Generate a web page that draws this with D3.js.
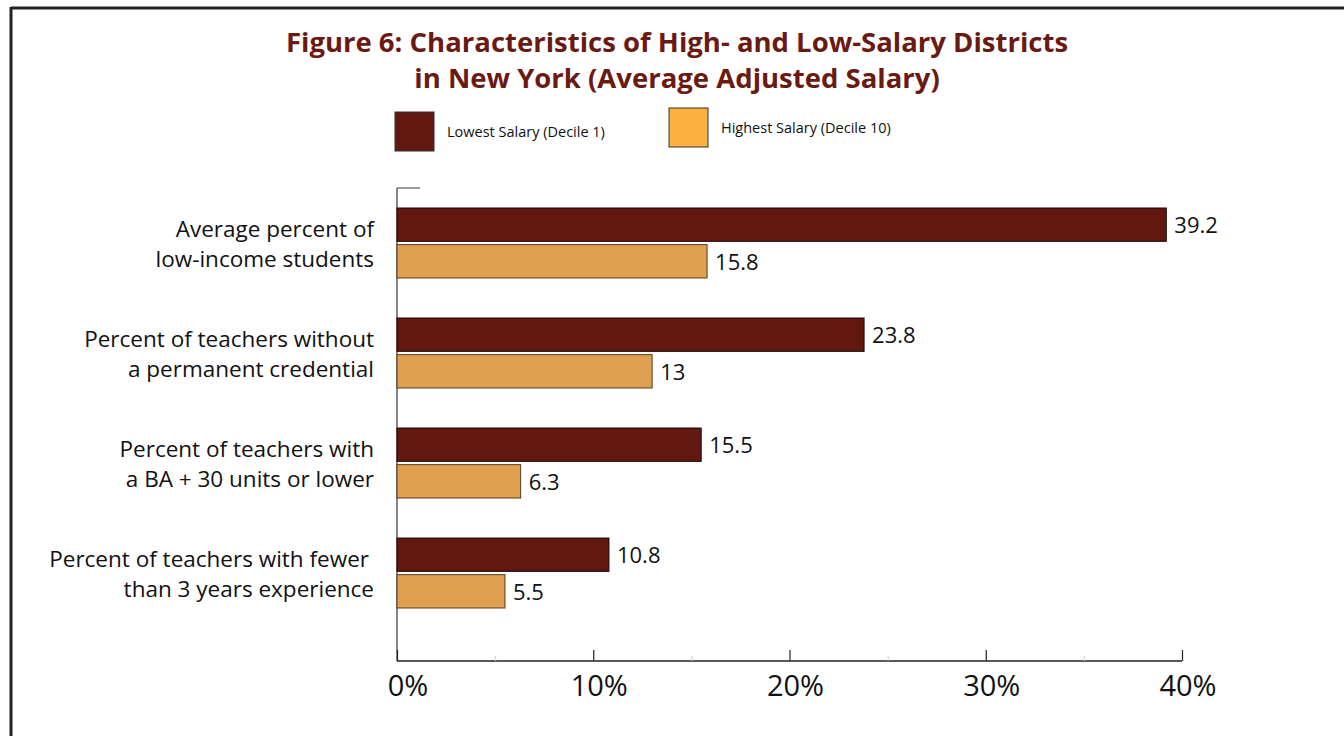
<!DOCTYPE html>
<html>
<head>
<meta charset="utf-8">
<script src="https://cdn.jsdelivr.net/npm/d3@7"></script>
<style>
  html, body { margin: 0; padding: 0; background: #fff; }
  svg { display: block; }
  text { font-family: "Open Sans", "Noto Sans", sans-serif; }
</style>
</head>
<body>
<svg id="chart" width="1344" height="736"></svg>
<script>
const titleLines = ["Figure 6: Characteristics of High- and Low-Salary Districts",
                    "in New York (Average Adjusted Salary)"];
const categories = [
  ["Average percent of", "low-income students"],
  ["Percent of teachers without", "a permanent credential"],
  ["Percent of teachers with", "a BA + 30 units or lower"],
  ["Percent of teachers with fewer", "than 3 years experience"]
];
const seriesNames = ["Lowest Salary (Decile 1)", "Highest Salary (Decile 10)"];
const lowestSalary = [39.2, 23.8, 15.5, 10.8];
const highestSalary = [15.8, 13, 6.3, 5.5];
const tickValues = [0, 10, 20, 30, 40];
const tickLabels = ["0%", "10%", "20%", "30%", "40%"];
const minorTicks = [5, 15, 25, 35];

const colors = { low: "#621711", high: "#e0a052", highLegend: "#fbb040", title: "#6b1a12" };

const svg = d3.select("#chart");

// frame
svg.append("line").attr("x1", 11).attr("x2", 1344).attr("y1", 8).attr("y2", 8)
  .attr("stroke", "#222").attr("stroke-width", 3);
svg.append("line").attr("x1", 11).attr("x2", 11).attr("y1", 7).attr("y2", 736)
  .attr("stroke", "#222").attr("stroke-width", 3);

// title
svg.append("g").selectAll("text").data(titleLines).join("text")
  .attr("x", 677).attr("y", (d, i) => 52 + i * 36)
  .attr("text-anchor", "middle")
  .attr("font-weight", "bold").attr("font-size", 27.5)
  .attr("fill", colors.title)
  .text(d => d);

// legend
const legendItems = [
  { name: seriesNames[0], color: colors.low, x: 395, y: 112 },
  { name: seriesNames[1], color: colors.highLegend, x: 669, y: 108 }
];
const lg = svg.append("g").selectAll("g").data(legendItems).join("g")
  .attr("transform", d => `translate(${d.x},${d.y})`);
lg.append("rect").attr("width", 39).attr("height", 39)
  .attr("fill", d => d.color).attr("stroke", "#333").attr("stroke-width", 1);
lg.append("text").attr("x", 52).attr("y", 25).attr("font-size", 14.5).attr("fill", "#111")
  .text(d => d.name);

// scales
const x = d3.scaleLinear().domain([0, 40]).range([397, 1182]);
const y = d3.scaleBand().domain(d3.range(categories.length)).range([208, 608])
  .paddingInner(0.364).paddingOuter(0);
const ySub = d3.scaleBand().domain(["low", "high"]).range([0, y.bandwidth()]).paddingInner(0.09);

// axes
const yAxisG = svg.append("g");
yAxisG.append("line").attr("x1", 397).attr("x2", 397).attr("y1", 188).attr("y2", 661)
  .attr("stroke", "#444").attr("stroke-width", 1.3);
yAxisG.append("line").attr("x1", 397).attr("x2", 420).attr("y1", 188).attr("y2", 188)
  .attr("stroke", "#666").attr("stroke-width", 1.3);

const xAxis = d3.axisTop(x).tickValues(tickValues).tickSize(11).tickFormat("");
const xg = svg.append("g").attr("transform", "translate(0,661)").call(xAxis);
xg.select(".domain").attr("stroke", "#222").attr("stroke-width", 1.5).attr("d", `M${x(0)},0H${x(40)}`);
xg.selectAll(".tick line").attr("stroke", "#222").attr("stroke-width", 1.2);

const xMinor = d3.axisTop(x).tickValues(minorTicks).tickSize(5).tickFormat("");
const xm = svg.append("g").attr("transform", "translate(0,661)").call(xMinor);
xm.select(".domain").remove();
xm.selectAll(".tick line").attr("stroke", "#ccc").attr("stroke-width", 1);

svg.append("g").selectAll("text").data(tickValues).join("text")
  .attr("x", (d, i) => x(d) + (i === 0 ? 11 : 6)).attr("y", 696)
  .attr("text-anchor", "middle").attr("font-size", 29).attr("fill", "#111")
  .text((d, i) => tickLabels[i]);

// category labels
const catG = svg.append("g").selectAll("text").data(categories).join("text")
  .attr("x", 374).attr("text-anchor", "end").attr("font-size", 22.5).attr("fill", "#111")
  .attr("y", (d, i) => y(i) + y.bandwidth() / 2);
catG.selectAll("tspan").data(d => d).join("tspan")
  .attr("x", (d, j) => j === 0 && d.endsWith("fewer") ? 369 : 374)
  .attr("dy", (d, j) => j === 0 ? -6 : 30)
  .text(d => d);

// bars
const rows = categories.map((c, i) => ({ i, low: lowestSalary[i], high: highestSalary[i] }));
const groups = svg.append("g").selectAll("g").data(rows).join("g")
  .attr("transform", d => `translate(0,${y(d.i)})`);
const barData = d => [{ key: "low", v: d.low }, { key: "high", v: d.high }];
groups.selectAll("rect").data(barData).join("rect")
  .attr("x", x(0)).attr("y", d => ySub(d.key))
  .attr("width", d => x(d.v) - x(0)).attr("height", ySub.bandwidth())
  .attr("fill", d => d.key === "low" ? colors.low : colors.high)
  .attr("stroke", d => d.key === "low" ? "#1a0804" : "#5a3a18").attr("stroke-width", 1);
groups.selectAll("text").data(barData).join("text")
  .attr("x", d => x(d.v) + 8).attr("y", d => ySub(d.key) + ySub.bandwidth() / 2)
  .attr("dy", "0.4em").attr("font-size", 22).attr("fill", "#111")
  .text(d => d.v);
</script>
</body>
</html>
